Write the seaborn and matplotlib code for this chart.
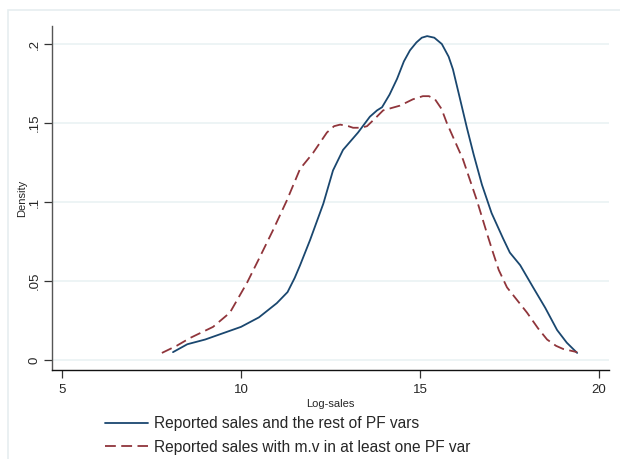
import matplotlib
matplotlib.use("Agg")
import matplotlib.pyplot as plt
import matplotlib.patches as mpatches
import seaborn as sns
import pandas as pd

# kernel density
x_rest = [8.1, 8.5, 9.0, 9.5, 10.0, 10.5, 11.0, 11.3, 11.5, 11.65, 11.93, 12.3, 12.57,
          12.85, 13.27, 13.6, 13.8, 13.94, 14.15, 14.36, 14.55, 14.72, 14.9, 15.05,
          15.2, 15.4, 15.61, 15.8, 15.92, 16.1, 16.31, 16.5, 16.73, 17.0, 17.32, 17.51,
          17.8, 18.16, 18.5, 18.83, 19.1, 19.39]
d_rest = [0.005, 0.010, 0.013, 0.017, 0.021, 0.027, 0.036, 0.043, 0.052, 0.060, 0.076,
          0.099, 0.120, 0.133, 0.144, 0.154, 0.158, 0.160, 0.168, 0.178, 0.189, 0.196,
          0.201, 0.204, 0.205, 0.204, 0.200, 0.192, 0.184, 0.167, 0.147, 0.130, 0.111,
          0.093, 0.077, 0.068, 0.060, 0.046, 0.033, 0.019, 0.011, 0.0045]

x_mv = [7.79, 8.2, 8.58, 9.22, 9.69, 10.17, 10.5, 10.89, 11.28, 11.65, 12.01, 12.4,
        12.6, 12.77, 13.0, 13.13, 13.35, 13.52, 13.75, 13.97, 14.44, 14.8, 15.08, 15.25,
        15.42, 15.6, 15.75, 16.2, 16.59, 16.9, 17.04, 17.2, 17.43, 17.99, 18.3, 18.55,
        18.8, 19.0, 19.39]
d_mv = [0.0045, 0.009, 0.014, 0.021, 0.030, 0.049, 0.064, 0.082, 0.101, 0.121, 0.131,
        0.144, 0.148, 0.149, 0.148, 0.147, 0.147, 0.148, 0.153, 0.158, 0.161, 0.165,
        0.167, 0.167, 0.165, 0.159, 0.150, 0.127, 0.101, 0.078, 0.068, 0.057, 0.046,
        0.030, 0.020, 0.013, 0.009, 0.007, 0.005]

labels = ["Reported sales and the rest of PF vars",
          "Reported sales with m.v in at least one PF var"]
xticks = [5, 10, 15, 20]
yticks = [0, 0.05, 0.1, 0.15, 0.2]
yticklabels = ["0", ".05", ".1", ".15", ".2"]

df = pd.concat([
    pd.DataFrame({"x": x_rest, "density": d_rest, "group": labels[0]}),
    pd.DataFrame({"x": x_mv, "density": d_mv, "group": labels[1]}),
])

sns.set_style("white")
plt.rcParams["font.family"] = ["Liberation Sans", "DejaVu Sans"]

fig = plt.figure(figsize=(6.2, 4.59), dpi=100)
fig.patches.append(mpatches.Rectangle((8 / 620, -0.1), 1.1, 1 - 10 / 459 + 0.1,
                                      transform=fig.transFigure, fill=False,
                                      edgecolor="#e6eef0", lw=1.2))
ax = fig.add_axes([52 / 620, 1 - 370 / 459, (609 - 52) / 620, (370 - 26) / 459])

pal = {labels[0]: "#1a476f", labels[1]: "#90353b"}
sns.lineplot(data=df, x="x", y="density", hue="group", style="group",
             palette=pal, dashes={labels[0]: "", labels[1]: (6, 3)},
             linewidth=1.3, ax=ax, legend=False, sort=False)

ax.set_xlim(4.72, 20.28)
ax.set_ylim(-0.0063, 0.2114)
ax.set_xticks(xticks)
ax.set_xticklabels([str(t) for t in xticks], fontsize=9.5)
ax.set_yticks(yticks)
ax.set_yticklabels(yticklabels, fontsize=9.5, rotation=90, va="center")
for t in yticks:
    ax.axhline(t, color="#eaf2f3", lw=1.2, zorder=0)
ax.tick_params(axis="both", direction="out", length=6, width=0.9, color="#333333",
               pad=4, left=True, bottom=True)
ax.tick_params(axis="y", pad=2)
ax.set_xlabel("Log-sales", fontsize=8, labelpad=2)
ax.set_ylabel("Density", fontsize=8, labelpad=1)
sns.despine(ax=ax)
ax.spines["left"].set_color("#555555")
ax.spines["bottom"].set_color("#111111")
ax.spines["left"].set_linewidth(1.0)
ax.spines["bottom"].set_linewidth(1.0)

handles = [
    plt.Line2D([], [], color=pal[labels[0]], lw=1.3),
    plt.Line2D([], [], color=pal[labels[1]], lw=1.3, dashes=(6, 3)),
]
fig.legend(handles, labels, loc="upper left", bbox_to_anchor=(105 / 620, 1 - 416 / 459),
           frameon=False, fontsize=11.2, handlelength=2.75, handletextpad=0.4,
           labelspacing=0.55, borderaxespad=0, borderpad=0)

fig.savefig("out.png", dpi=100, facecolor="white")
